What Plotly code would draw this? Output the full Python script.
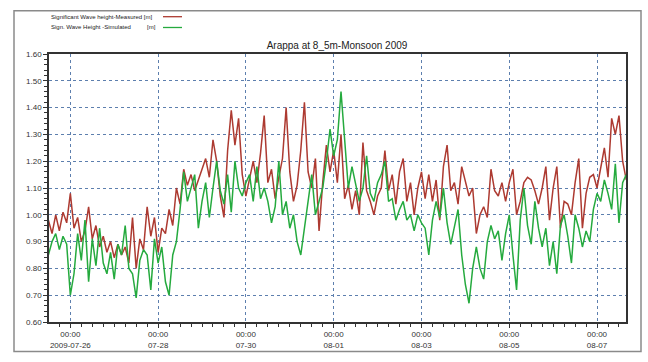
import pandas as pd
import plotly.graph_objects as go

# Two-hourly significant wave height, 2009-07-25 12:00 to 2009-08-07 16:00
start_time = "2009-07-25 12:00"
step = "2h"

measured = [
    0.98, 0.93, 1.00, 0.94, 1.01, 0.97,
    1.08, 0.95, 0.99, 0.90, 0.94, 1.03, 0.91, 0.96, 0.88, 0.92, 0.86, 0.90,
    0.84, 0.89, 0.85, 0.88, 0.82, 0.99, 0.80, 0.91, 0.87, 1.03, 0.92, 0.99,
    0.86, 0.95, 0.93, 1.02, 0.96, 1.10, 1.04, 1.17, 1.11, 1.15, 1.09, 1.13,
    1.17, 1.21, 1.14, 1.28, 1.20, 1.07, 0.99, 1.24, 1.39, 1.26, 1.36, 1.15,
    1.07, 1.14, 1.20, 1.12, 1.23, 1.37, 1.12, 1.17, 1.06, 1.14, 1.21, 1.40,
    1.16, 1.05, 1.11, 1.24, 1.42, 1.16, 1.10, 1.21, 0.94, 1.12, 1.26, 1.16,
    1.24, 1.12, 1.30, 1.06, 1.11, 1.02, 1.09, 1.00, 1.27, 1.09, 1.05, 1.00,
    1.07, 1.10, 1.24, 1.09, 1.15, 1.04, 1.16, 1.21, 1.05, 1.12, 1.00, 1.10,
    1.16, 1.06, 1.15, 1.05, 1.13, 0.98, 1.18, 1.26, 1.09, 1.12, 1.04, 1.18,
    1.12, 1.07, 1.10, 0.93, 1.00, 1.03, 0.99, 1.17, 1.09, 1.07, 1.12, 1.05,
    1.12, 1.17, 1.00, 1.05, 1.12, 1.14, 1.13, 1.09, 1.04, 1.10, 1.18, 0.98,
    1.10, 1.18, 0.95, 1.05, 1.04, 1.00, 1.12, 1.21, 0.95, 1.08, 1.14, 1.15,
    1.10, 1.18, 1.25, 1.14, 1.36, 1.30, 1.37, 1.20, 1.13,
]

simulated = [
    0.85, 0.90, 0.93, 0.87, 0.92, 0.89,
    0.70, 0.78, 0.93, 0.83, 0.98, 0.75, 0.91, 0.81, 0.95, 0.82, 0.78, 0.86,
    0.76, 0.89, 0.85, 0.96, 0.80, 0.78, 0.69, 0.83, 0.87, 0.85, 0.72, 0.91,
    0.82, 0.88, 0.75, 0.70, 0.85, 0.90, 1.02, 1.16, 1.05, 1.10, 1.15, 0.95,
    1.05, 1.12, 0.99, 1.10, 1.20, 1.09, 1.04, 1.15, 1.01, 1.20, 1.10, 1.07,
    1.12, 1.15, 1.05, 1.18, 1.06, 1.10, 1.05, 0.97, 1.03, 1.20, 1.00, 1.05,
    0.95, 1.00, 0.90, 0.85, 0.95, 1.05, 1.15, 1.00, 1.05, 1.10, 1.20, 1.32,
    1.22, 1.28, 1.46, 1.26, 1.10, 1.18, 1.12, 1.05, 1.10, 1.22, 1.08, 1.05,
    1.12, 1.15, 1.20, 1.05, 1.06, 0.98, 1.02, 1.05, 0.98, 1.00, 0.94, 1.00,
    0.97, 0.95, 0.85, 0.98, 1.05, 0.99, 1.10, 0.97, 0.89, 0.95, 1.02, 0.85,
    0.74, 0.67, 0.80, 0.88, 0.80, 0.76, 0.90, 0.96, 0.91, 0.94, 0.83, 0.93,
    1.00, 0.85, 0.72, 0.98, 1.10, 0.96, 0.89, 1.05, 0.95, 0.88, 0.95, 0.81,
    0.90, 0.78, 0.96, 1.00, 0.92, 0.82, 1.00, 0.95, 0.88, 0.94, 0.90, 1.02,
    1.08, 1.05, 1.13, 1.08, 1.02, 1.19, 0.97, 1.12, 1.15,
]

tick_dates = ["2009-07-26", "2009-07-28", "2009-07-30", "2009-08-01",
              "2009-08-03", "2009-08-05", "2009-08-07"]
tick_labels = ["00:00<br>2009-07-26", "00:00<br>07-28", "00:00<br>07-30",
               "00:00<br>08-01", "00:00<br>08-03", "00:00<br>08-05",
               "00:00<br>08-07"]

series_names = ["Significant Wave height-Measured [m]",
                "Sign. Wave Height -Simulated      [m]"]
title_text = "Arappa at 8_5m-Monsoon 2009"

times = pd.date_range(start_time, periods=len(measured), freq=step)

RED = "#ad3a31"
GREEN = "#25aa3e"
GRID = "#5d7fae"
NARROW = "Liberation Sans Narrow, Arial Narrow, Liberation Sans, Arial, sans-serif"

W, H = 648, 362
ML, MR, MT, MB = 49, 22, 54, 35
PW, PH = W - ML - MR, H - MT - MB


def px(x):
    return (x - ML) / PW


def py(y):
    return (H - MB - y) / PH


fig = go.Figure()
fig.add_trace(go.Scatter(x=times, y=measured, mode="lines", name=series_names[0],
                         line=dict(color=RED, width=1.5)))
fig.add_trace(go.Scatter(x=times, y=simulated, mode="lines", name=series_names[1],
                         line=dict(color=GREEN, width=1.5)))

axis_common = dict(
    showline=True, linecolor="#333333", linewidth=1.5, mirror=True,
    showgrid=True, gridcolor=GRID, gridwidth=1, griddash="dot",
    ticks="outside", ticklen=4, tickcolor="#333333", tickwidth=1,
    tickfont=dict(family=NARROW, size=8, color="#333333"),
    zeroline=False,
)

fig.update_xaxes(
    **axis_common,
    type="date",
    range=["2009-07-25 12:20", "2009-08-07 15:50"],
    tickmode="array", tickvals=tick_dates, ticktext=tick_labels,
    minor=dict(ticks="outside", ticklen=3, tickcolor="#333333",
               dtick=6 * 3600 * 1000, showgrid=False),
)
fig.update_yaxes(
    **axis_common,
    range=[0.6, 1.6], tickmode="linear", tick0=0.6, dtick=0.1,
    tickformat=".2f",
    minor=dict(ticks="outside", ticklen=3, tickcolor="#333333",
               dtick=0.02, showgrid=False),
)

# Outer frame around the whole chart
fig.add_shape(type="rect", xref="paper", yref="paper",
              x0=px(14), x1=px(641), y0=py(357), y1=py(10),
              line=dict(color="#8a8a8a", width=1.5), layer="below")

# Legend block at top-left: text with the line sample to its right
legend_rows = [(16, RED), (27, GREEN)]
for (yy, col) in legend_rows:
    fig.add_shape(type="line", xref="paper", yref="paper",
                  x0=px(163), x1=px(182), y0=py(yy), y1=py(yy),
                  line=dict(color=col, width=1.3))

legend_font = dict(family=NARROW, size=6, color="#222222")
fig.add_annotation(xref="paper", yref="paper", x=px(49), y=py(16),
                   xanchor="left", yanchor="middle", showarrow=False,
                   text="Significant Wave height-Measured [m]", font=legend_font)
fig.add_annotation(xref="paper", yref="paper", x=px(49), y=py(27),
                   xanchor="left", yanchor="middle", showarrow=False,
                   text="Sign. Wave Height -Simulated", font=legend_font)
fig.add_annotation(xref="paper", yref="paper", x=px(158), y=py(27),
                   xanchor="right", yanchor="middle", showarrow=False,
                   text="[m]", font=legend_font)

fig.update_layout(
    width=W, height=H,
    margin=dict(l=ML, r=MR, t=MT, b=MB),
    paper_bgcolor="white", plot_bgcolor="white",
    showlegend=False,
    title=dict(text=title_text, x=px(337), xref="paper", xanchor="center",
               y=1 - 45 / H, yanchor="middle",
               font=dict(family="Liberation Sans, Arial, sans-serif", size=10,
                         color="#222222")),
)

fig.write_html("out.html")
